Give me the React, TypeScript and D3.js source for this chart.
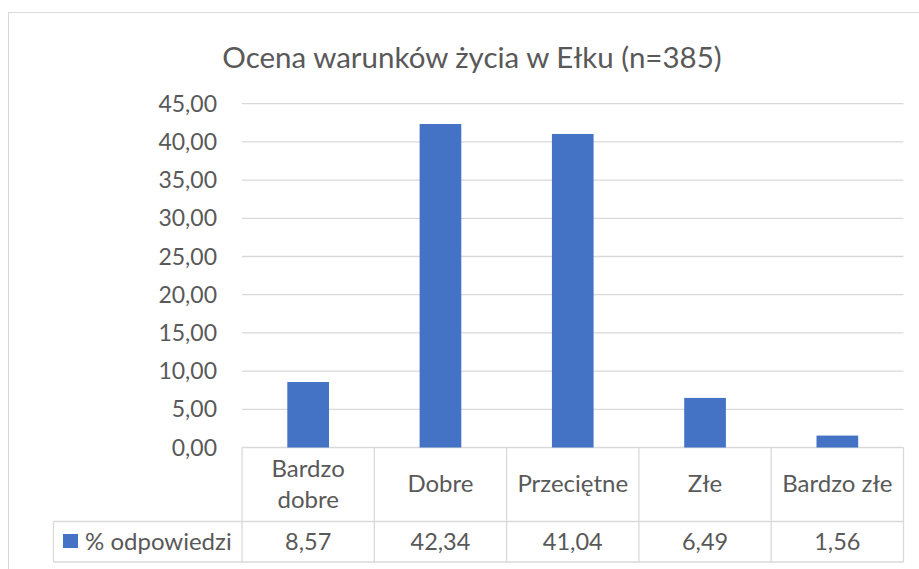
import React from "react";
import * as d3 from "d3";

const title = "Ocena warunków życia w Ełku (n=385)";
const categories = ["Bardzo dobre", "Dobre", "Przeciętne", "Złe", "Bardzo złe"];
const values = [8.57, 42.34, 41.04, 6.49, 1.56];
const seriesName = "% odpowiedzi";
const yTicks = [0, 5, 10, 15, 20, 25, 30, 35, 40, 45];

const W = 919;
const H = 569;
const FONT = "Lato, 'Open Sans', sans-serif";
const TEXT = "#595959";
const GRID = "#d9d9d9";
const BAR = "#4472C4";

const fmt = (v: number) => v.toFixed(2).replace(".", ",");

function wrap(label: string): string[] {
  if (label.length <= 10) return [label];
  return label.split(" ");
}

export default function App() {
  const plotLeft = 242;
  const plotRight = 903.5;
  const y0 = 447.5;
  const yTop = 103.7;
  const catBottom = 521.5;
  const tableBottom = 562;
  const legendLeft = 53.5;

  const x = d3.scaleBand<string>().domain(categories).range([plotLeft, plotRight]).paddingInner(0).paddingOuter(0);
  const y = d3.scaleLinear().domain([0, 45]).range([y0, yTop]);
  const bw = x.bandwidth() * 0.315;
  const bounds = [...categories.map((c) => x(c) as number), plotRight];

  return (
    <svg width={W} height={H} style={{ position: "absolute", left: 0, top: 0, background: "#fff" }}>
      <rect x={8.5} y={12.5} width={928} height={570} fill="#fff" stroke={GRID} strokeWidth={1} />
      <text x={472} y={68} textAnchor="middle" fontFamily={FONT} fontSize={29.5} fill={TEXT}>
        {title}
      </text>
      {yTicks.map((t) => (
        <g key={t}>
          <line x1={plotLeft} x2={plotRight} y1={y(t)} y2={y(t)} stroke={GRID} strokeWidth={1.3} />
          <text x={217} y={y(t) + 8} textAnchor="end" fontFamily={FONT} fontSize={23} fill={TEXT}>
            {fmt(t)}
          </text>
        </g>
      ))}
      {categories.map((c, i) => (
        <rect
          key={c}
          x={(x(c) as number) + x.bandwidth() / 2 - bw / 2}
          y={y(values[i])}
          width={bw}
          height={y0 - y(values[i])}
          fill={BAR}
        />
      ))}
      <line x1={legendLeft} x2={plotRight} y1={catBottom} y2={catBottom} stroke={GRID} strokeWidth={1.3} />
      <line x1={legendLeft} x2={plotRight} y1={tableBottom} y2={tableBottom} stroke={GRID} strokeWidth={1.3} />
      <line x1={legendLeft} x2={legendLeft} y1={catBottom} y2={tableBottom} stroke={GRID} strokeWidth={1.3} />
      {bounds.map((b, i) => (
        <line key={i} x1={b} x2={b} y1={y0} y2={tableBottom} stroke={GRID} strokeWidth={1.3} />
      ))}
      {categories.map((c, i) => {
        const lines = wrap(c);
        const cx = (x(c) as number) + x.bandwidth() / 2;
        const baselines = lines.length === 1 ? [492] : [476.7, 508];
        return (
          <g key={c}>
            {lines.map((l, j) => (
              <text key={j} x={cx} y={baselines[j]} textAnchor="middle" fontFamily={FONT} fontSize={24} fill={TEXT}>
                {l}
              </text>
            ))}
            <text x={cx} y={550} textAnchor="middle" fontFamily={FONT} fontSize={23.5} fill={TEXT}>
              {fmt(values[i])}
            </text>
          </g>
        );
      })}
      <rect x={63} y={534} width={15} height={14} fill={BAR} />
      <text x={85} y={550} fontFamily={FONT} fontSize={24} fill={TEXT}>
        {seriesName}
      </text>
    </svg>
  );
}
